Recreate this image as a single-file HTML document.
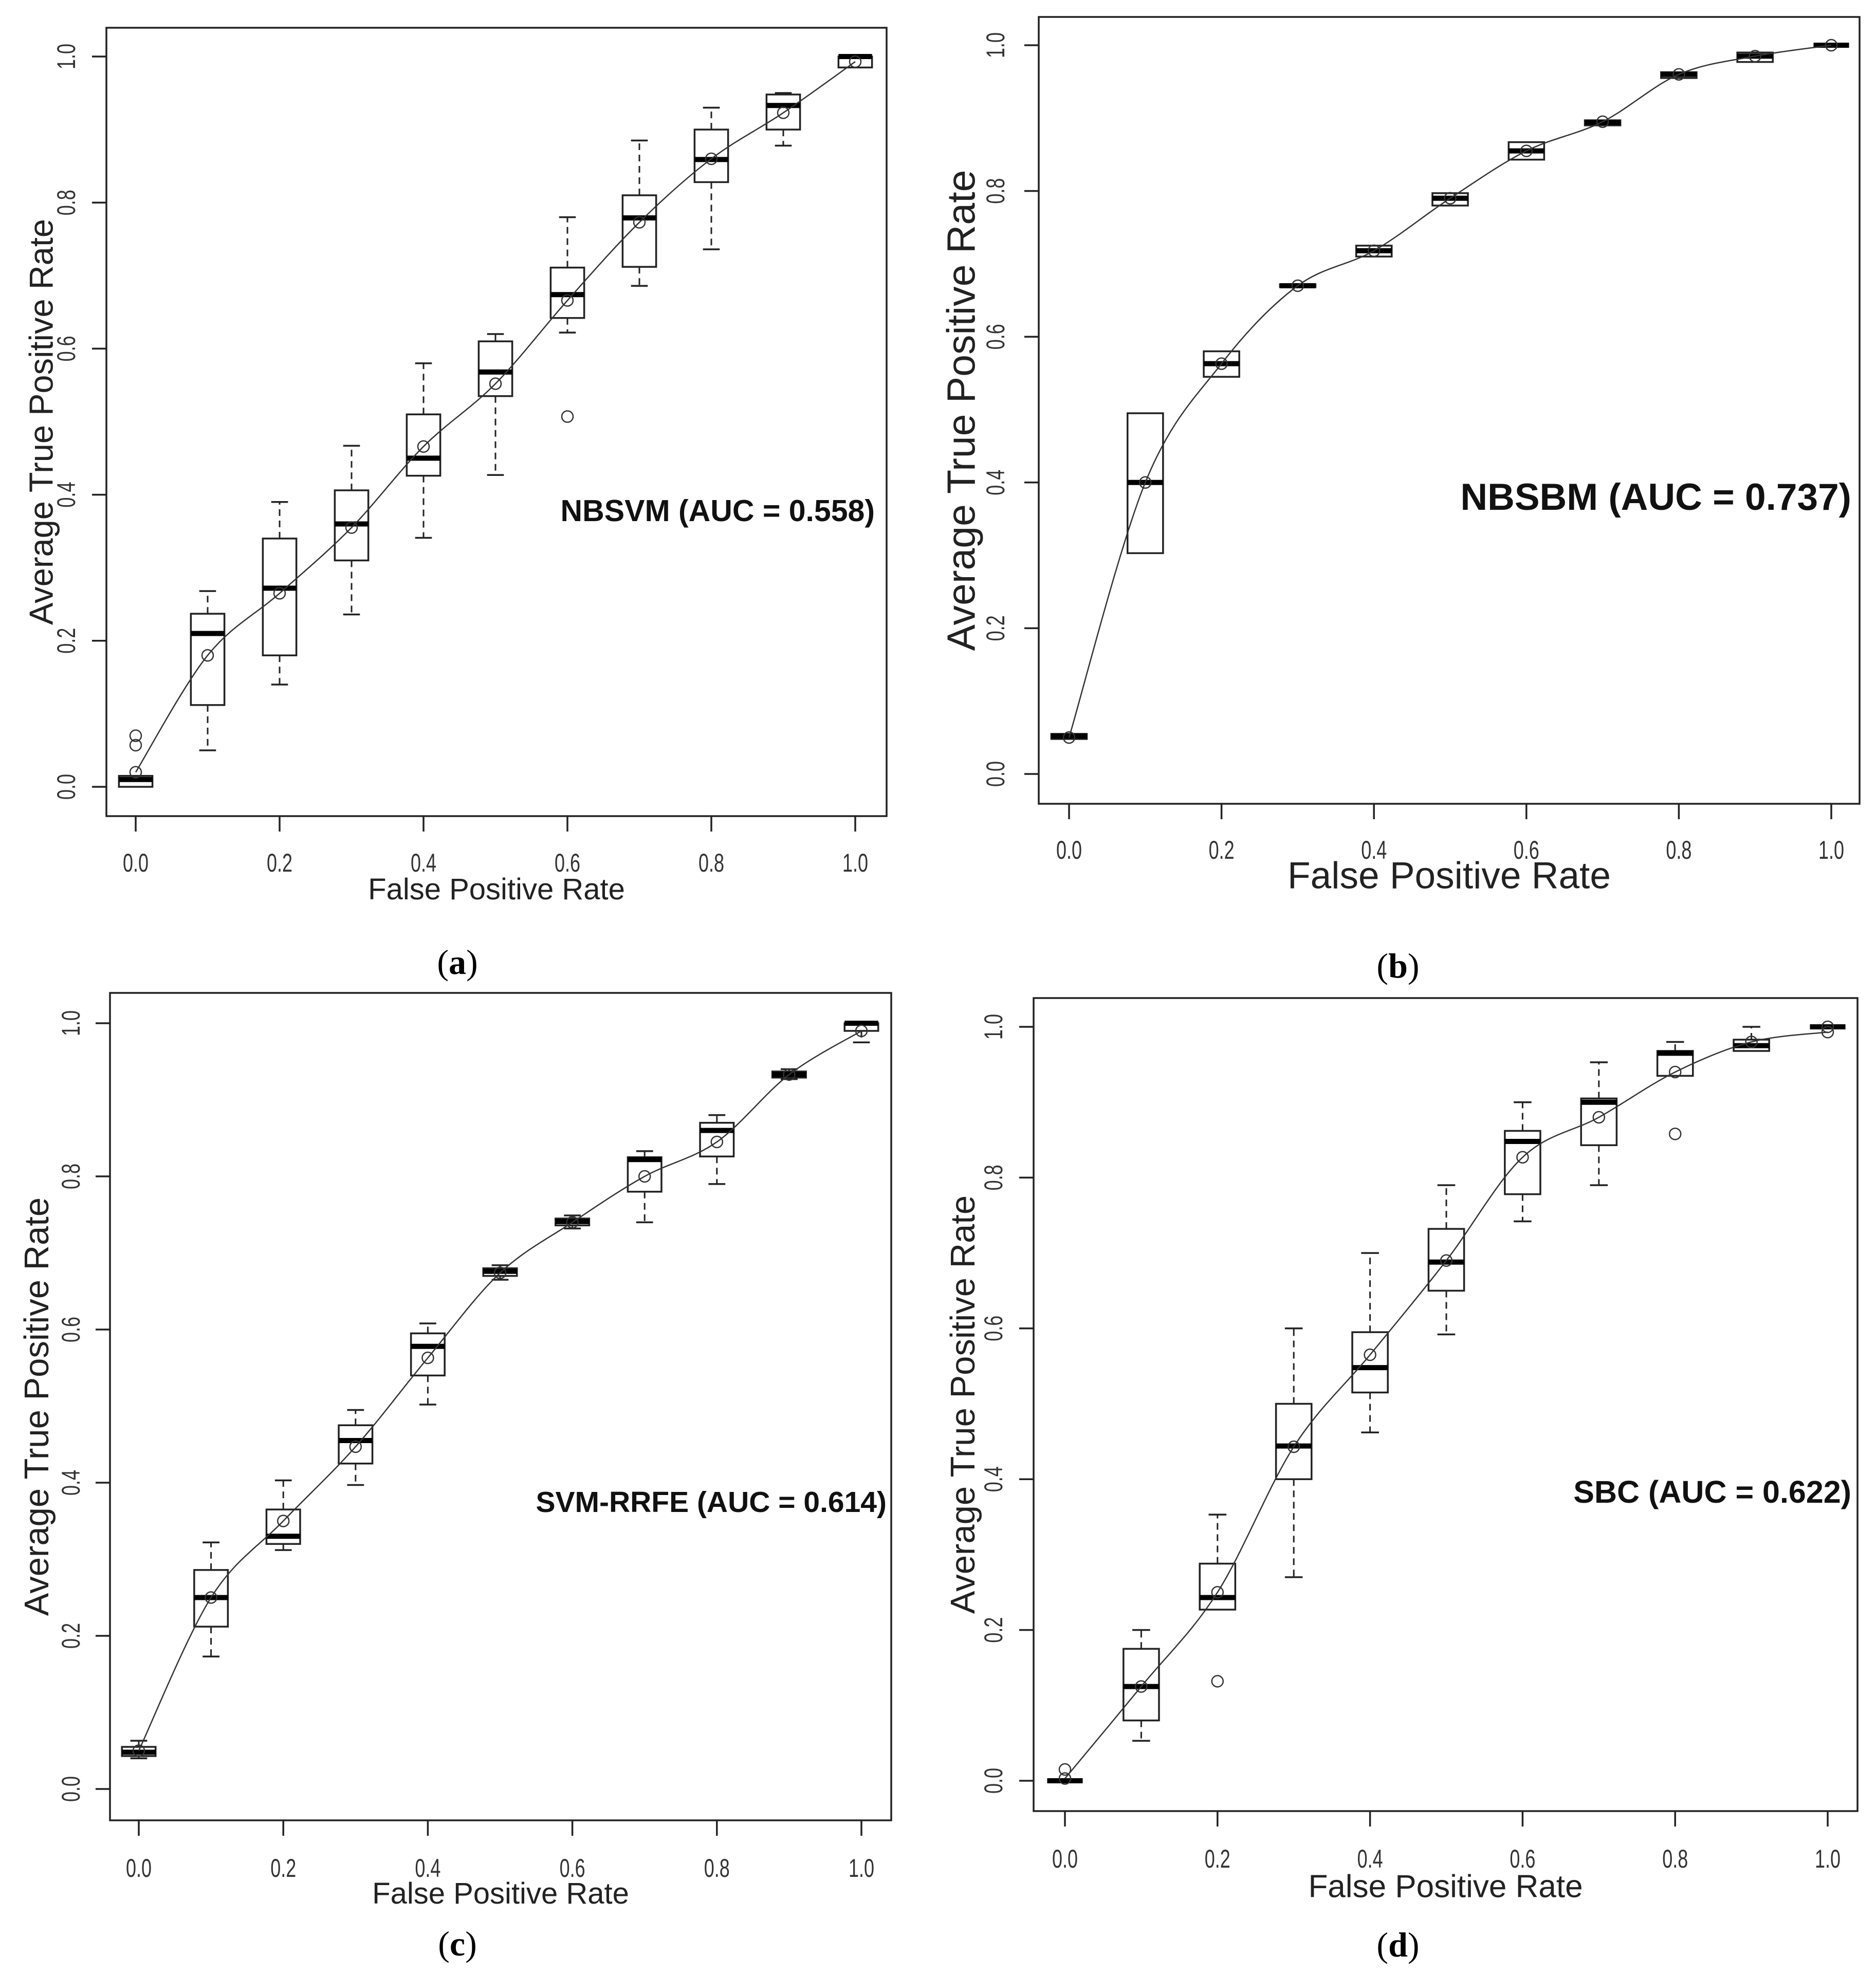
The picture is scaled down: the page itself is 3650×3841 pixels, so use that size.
<!DOCTYPE html>
<html><head><meta charset="utf-8"><style>
html,body{margin:0;padding:0;background:#fff}
svg{display:block}
</style></head><body>
<svg id="fig" width="3650" height="3841" viewBox="0 0 3650 3841" xmlns="http://www.w3.org/2000/svg" font-family="Liberation Sans, sans-serif"></svg>
<script>
const xCats = [0,0.1,0.2,0.3,0.4,0.5,0.6,0.7,0.8,0.9,1.0];
const tickVals = [0,0.2,0.4,0.6,0.8,1.0];
const tickLabels = ["0.0","0.2","0.4","0.6","0.8","1.0"];

// panel a: NBSVM
const aLo  = [0,0.05,0.14,0.236,0.341,0.427,0.622,0.686,0.736,0.878,0.985];
const aQ1  = [0,0.112,0.18,0.31,0.426,0.535,0.642,0.712,0.828,0.9,0.985];
const aMed = [0.01,0.21,0.272,0.36,0.45,0.568,0.674,0.779,0.859,0.933,1.0];
const aQ3  = [0.015,0.237,0.34,0.406,0.51,0.61,0.711,0.81,0.9,0.948,1.0];
const aHi  = [0.015,0.268,0.39,0.467,0.58,0.62,0.78,0.885,0.93,0.95,1.0];
const aMean= [0.02,0.18,0.265,0.355,0.466,0.552,0.666,0.773,0.86,0.923,0.993];
const aOut = [[0,0.07],[0,0.057],[0.6,0.507]];

// panel b: NBSBM
const bLo  = [0.048,0.303,0.545,0.668,0.71,0.78,0.843,0.89,0.955,0.977,1.0];
const bQ1  = [0.048,0.303,0.545,0.668,0.71,0.78,0.843,0.89,0.955,0.977,1.0];
const bMed = [0.052,0.4,0.563,0.67,0.718,0.79,0.855,0.894,0.96,0.985,1.0];
const bQ3  = [0.055,0.495,0.58,0.672,0.725,0.797,0.867,0.897,0.963,0.99,1.0];
const bHi  = [0.055,0.495,0.58,0.672,0.725,0.797,0.867,0.897,0.963,0.99,1.0];
const bMean= [0.05,0.4,0.563,0.67,0.718,0.79,0.855,0.895,0.96,0.985,1.0];
const bOut = [];

// panel c: SVM-RRFE
const cLo  = [0.04,0.173,0.312,0.397,0.502,0.665,0.732,0.74,0.79,0.927,0.975];
const cQ1  = [0.043,0.212,0.32,0.425,0.54,0.67,0.736,0.78,0.826,0.929,0.99];
const cMed = [0.048,0.25,0.33,0.455,0.578,0.676,0.741,0.822,0.86,0.933,1.0];
const cQ3  = [0.055,0.286,0.365,0.475,0.595,0.68,0.745,0.825,0.87,0.937,1.0];
const cHi  = [0.063,0.322,0.403,0.495,0.608,0.684,0.749,0.833,0.88,0.94,1.0];
const cMean= [0.05,0.25,0.35,0.447,0.563,0.674,0.74,0.8,0.845,0.933,0.99];
const cOut = [];

// panel d: SBC
const dLo  = [0,0.053,0.227,0.27,0.462,0.592,0.742,0.79,0.935,0.968,1.0];
const dQ1  = [0,0.08,0.227,0.4,0.515,0.65,0.778,0.843,0.935,0.968,1.0];
const dMed = [0,0.125,0.243,0.444,0.548,0.688,0.848,0.9,0.965,0.975,1.0];
const dQ3  = [0,0.175,0.288,0.5,0.595,0.732,0.862,0.905,0.968,0.983,1.0];
const dHi  = [0,0.2,0.353,0.6,0.7,0.79,0.9,0.953,0.98,1.0,1.0];
const dMean= [0.003,0.125,0.25,0.443,0.565,0.69,0.827,0.88,0.94,0.98,0.993];
const dOut = [[0,0.015],[0.2,0.132],[0.8,0.858],[1.0,1.0]];

const NS="http://www.w3.org/2000/svg";
const svg=document.getElementById('fig');
function mk(tag,attrs,parent){const e=document.createElementNS(NS,tag);for(const k in attrs)e.setAttribute(k,attrs[k]);parent.appendChild(e);return e;}

const panels=[
 {id:'a',lo:aLo,q1:aQ1,med:aMed,q3:aQ3,hi:aHi,mean:aMean,out:aOut,
  box:[207,54,1725,1588],x0:264,x1:1664,y0:1531,y1:110,
  ytl:128,ytitleX:79,ytitleFs:65,xlabC:1678,xtitleC:1729,xtitleFs:58,
  ann:'NBSVM (AUC = 0.558)',annX:1702,annY:1014,annFs:59,cap:'a',capX:890,capC:1875},
 {id:'b',lo:bLo,q1:bQ1,med:bMed,q3:bQ3,hi:bHi,mean:bMean,out:bOut,
  box:[2021,33,3618,1564],x0:2080,x1:3563,y0:1506,y1:88,
  ytl:1936,ytitleX:1869,ytitleFs:77,xlabC:1653,xtitleC:1702,xtitleFs:73,
  ann:'NBSBM (AUC = 0.737)',annX:3602,annY:992,annFs:73,cap:'b',capX:2720,capC:1882},
 {id:'c',lo:cLo,q1:cQ1,med:cMed,q3:cQ3,hi:cHi,mean:cMean,out:cOut,
  box:[214,1932,1734,3542],x0:270,x1:1676,y0:3481,y1:1991,
  ytl:137,ytitleX:70,ytitleFs:67,xlabC:3634,xtitleC:3683,xtitleFs:58,
  ann:'SVM-RRFE (AUC = 0.614)',annX:1725,annY:2942,annFs:57,cap:'c',capX:890,capC:3785},
 {id:'d',lo:dLo,q1:dQ1,med:dMed,q3:dQ3,hi:dHi,mean:dMean,out:dOut,
  box:[2011,1942,3614,3524],x0:2072,x1:3556,y0:3465,y1:1998,
  ytl:1932,ytitleX:1872,ytitleFs:67,xlabC:3616,xtitleC:3669,xtitleFs:62,
  ann:'SBC (AUC = 0.622)',annX:3602,annY:2924,annFs:61,cap:'d',capX:2720,capC:3787}
];

panels.forEach(p=>{
  const g=mk('g',{},svg);
  
  
  const X=v=>p.x0+(p.x1-p.x0)*v;
  const Y=v=>p.y0+(p.y1-p.y0)*v;
  const [bx0,by0,bx1,by1]=p.box;
  const frame=mk('rect',{x:bx0,y:by0,width:bx1-bx0,height:by1-by0,fill:'none',stroke:'#222','stroke-width':3.5},g);
  
  
  const xa=mk('g',{},g);
  
  
  tickVals.forEach((v,i)=>{
    mk('line',{x1:X(v),x2:X(v),y1:by1,y2:by1+30,stroke:'#222','stroke-width':3.5},xa);
    const t=mk('text',{x:0,y:0,'font-size':50,fill:'#333','text-anchor':'middle',transform:`translate(${X(v)},${p.xlabC+18}) scale(0.72,1)`},xa);
    t.textContent=tickLabels[i];
    
    
  });
  const xt=mk('text',{x:(bx0+bx1)/2,y:p.xtitleC+p.xtitleFs*0.36,'font-size':p.xtitleFs,fill:'#222','text-anchor':'middle'},g);
  xt.textContent='False Positive Rate';
  
  
  const ya=mk('g',{},g);
  
  
  tickVals.forEach((v,i)=>{
    mk('line',{x1:bx0,x2:bx0-28,y1:Y(v),y2:Y(v),stroke:'#222','stroke-width':3.5},ya);
    const t=mk('text',{x:0,y:0,'font-size':50,fill:'#333','text-anchor':'middle',transform:`translate(${p.ytl+18},${Y(v)}) rotate(-90) scale(0.72,1)`},ya);
    t.textContent=tickLabels[i];
    
    
  });
  const yt=mk('text',{x:0,y:0,'font-size':p.ytitleFs,fill:'#222','text-anchor':'middle',transform:`translate(${p.ytitleX+p.ytitleFs*0.36},${(by0+by1)/2}) rotate(-90)`},g);
  yt.textContent='Average True Positive Rate';
  
  
  const hw=0.0233;
  xCats.forEach((c,i)=>{
    const bg=mk('g',{},g);
    
    
    const cx=X(c), l=X(c-hw), r=X(c+hw), capw=(r-l)/4;
    if(p.hi[i]>p.q3[i]){
      mk('line',{x1:cx,x2:cx,y1:Y(p.q3[i]),y2:Y(p.hi[i]),stroke:'#222','stroke-width':3,'stroke-dasharray':'13,9'},bg);
      mk('line',{x1:cx-capw,x2:cx+capw,y1:Y(p.hi[i]),y2:Y(p.hi[i]),stroke:'#222','stroke-width':3.5},bg);
    }
    if(p.lo[i]<p.q1[i]){
      mk('line',{x1:cx,x2:cx,y1:Y(p.q1[i]),y2:Y(p.lo[i]),stroke:'#222','stroke-width':3,'stroke-dasharray':'13,9'},bg);
      mk('line',{x1:cx-capw,x2:cx+capw,y1:Y(p.lo[i]),y2:Y(p.lo[i]),stroke:'#222','stroke-width':3.5},bg);
    }
    mk('rect',{x:l,y:Y(p.q3[i]),width:r-l,height:Math.max(0,Y(p.q1[i])-Y(p.q3[i])),fill:'none',stroke:'#222','stroke-width':3.5},bg);
    mk('line',{x1:l,x2:r,y1:Y(p.med[i]),y2:Y(p.med[i]),stroke:'#000','stroke-width':10},bg);
  });
  p.out.forEach(o=>{
    const c=mk('circle',{cx:X(o[0]),cy:Y(o[1]),r:11,fill:'none',stroke:'#333','stroke-width':2.5},g);
    
    
  });
  p.mean.forEach((m,i)=>{
    const c=mk('circle',{cx:X(xCats[i]),cy:Y(m),r:11,fill:'none',stroke:'#333','stroke-width':2.5},g);
    
    
  });
  const pts=p.mean.map((m,i)=>[X(xCats[i]),Y(m)]);
  let d=`M${pts[0][0]},${pts[0][1]}`;
  for(let i=0;i<pts.length-1;i++){
    const p0=pts[Math.max(0,i-1)],p1=pts[i],p2=pts[i+1],p3=pts[Math.min(pts.length-1,i+2)];
    const c1=[p1[0]+(p2[0]-p0[0])/6,p1[1]+(p2[1]-p0[1])/6];
    const c2=[p2[0]-(p3[0]-p1[0])/6,p2[1]-(p3[1]-p1[1])/6];
    d+=` C${c1[0]},${c1[1]} ${c2[0]},${c2[1]} ${p2[0]},${p2[1]}`;
  }
  const curve=mk('path',{d:d,fill:'none',stroke:'#333','stroke-width':2.5},g);
  
  
  const an=mk('text',{x:p.annX,y:p.annY,'font-size':p.annFs,'font-weight':'bold',fill:'#111','text-anchor':'end'},g);
  an.textContent=p.ann;
  
  
  const cp=mk('text',{x:p.capX,y:p.capC+20,'font-size':68,fill:'#000','text-anchor':'middle','font-family':'Liberation Serif, serif'},svg);
  cp.innerHTML='(<tspan font-weight="bold">'+p.cap+'</tspan>)';
  
  
});
</script>
</body></html>
